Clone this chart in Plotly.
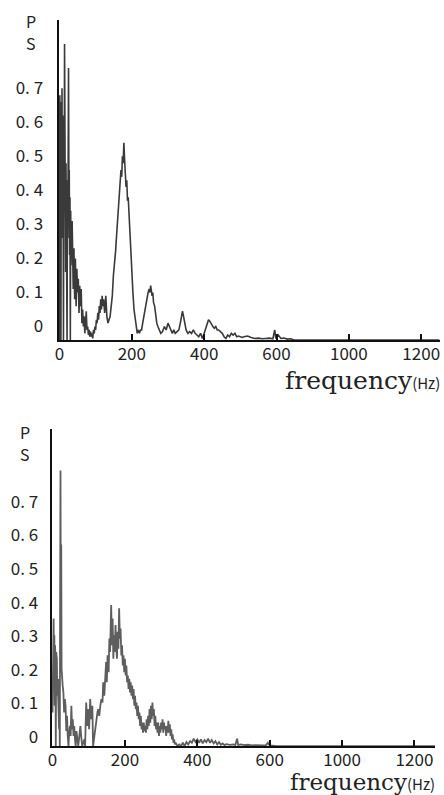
import plotly.graph_objects as go

# ---------------- data ----------------
top_freq = [0, 1, 2, 3, 4, 5, 6, 7, 8, 9, 10, 11, 12, 13, 14, 15, 16, 17, 18, 19, 20, 21, 22, 23, 24, 25,
            26, 27, 28, 29, 30, 31, 32, 33, 34, 35, 36, 37, 38, 40, 42, 44, 46, 48, 50, 52, 54, 56, 58, 60,
            62, 64, 66, 68, 70, 72, 74, 76, 78, 80, 82, 84, 86, 88, 90, 92, 94, 96, 98, 100, 102, 104, 106,
            108, 110, 112, 114, 116, 118, 120, 122, 125, 128, 131, 134, 137, 140, 143, 146, 149, 152, 155,
            158, 161, 164, 167, 170, 172, 174, 176, 178, 180, 182, 184, 186, 188, 190, 192, 194, 196, 198,
            200, 203, 206, 209, 212, 215, 218, 221, 224, 227, 230, 233, 236, 239, 242, 245, 248, 250, 252,
            254, 256, 258, 260, 263, 266, 269, 272, 276, 280, 285, 290, 295, 300, 304, 308, 312, 316, 320,
            325, 330, 334, 337, 340, 343, 346, 350, 355, 360, 365, 370, 375, 380, 385, 390, 395, 400, 404,
            408, 412, 416, 420, 424, 428, 432, 436, 440, 445, 450, 455, 460, 465, 470, 475, 480, 485, 490,
            495, 500, 505, 510, 520, 530, 540, 550, 560, 570, 580, 590, 595, 598, 605, 612, 620, 630, 640,
            650, 1050]
top_ps = [0.0, 0.72, 0.35, 0.62, 0.0, 0.70, 0.45, 0.74, 0.30, 0.66, 0.50, 0.0, 0.55, 0.40, 0.87, 0.48,
          0.60, 0.20, 0.52, 0.35, 0.50, 0.0, 0.47, 0.30, 0.52, 0.80, 0.45, 0.50, 0.25, 0.42, 0.0, 0.38,
          0.22, 0.33, 0.28, 0.35, 0.18, 0.30, 0.15, 0.27, 0.12, 0.24, 0.10, 0.21, 0.14, 0.18, 0.08, 0.16,
          0.10, 0.15, 0.05, 0.09, 0.04, 0.07, 0.02, 0.05, 0.085, 0.03, 0.04, 0.015, 0.03, 0.01, 0.025, 0.01,
          0.02, 0.005, 0.03, 0.02, 0.04, 0.03, 0.06, 0.05, 0.08, 0.06, 0.10, 0.08, 0.12, 0.09, 0.13, 0.10,
          0.12, 0.08, 0.13, 0.07, 0.05, 0.06, 0.07, 0.10, 0.13, 0.19, 0.22, 0.26, 0.31, 0.36, 0.42, 0.47,
          0.50, 0.48, 0.54, 0.52, 0.58, 0.53, 0.50, 0.45, 0.47, 0.41, 0.42, 0.37, 0.36, 0.30, 0.25, 0.20,
          0.14, 0.09, 0.06, 0.03, 0.02, 0.03, 0.02, 0.03, 0.03, 0.05, 0.07, 0.09, 0.10, 0.12, 0.14, 0.15,
          0.14, 0.16, 0.15, 0.13, 0.14, 0.11, 0.10, 0.07, 0.05, 0.04, 0.03, 0.02, 0.025, 0.04, 0.03, 0.05,
          0.04, 0.03, 0.02, 0.03, 0.02, 0.025, 0.03, 0.05, 0.07, 0.085, 0.07, 0.05, 0.03, 0.02, 0.025, 0.02,
          0.03, 0.02, 0.015, 0.01, 0.02, 0.005, 0.02, 0.035, 0.045, 0.06, 0.055, 0.045, 0.04, 0.035, 0.04,
          0.03, 0.03, 0.025, 0.02, 0.01, 0.005, 0.015, 0.01, 0.02, 0.015, 0.02, 0.01, 0.012, 0.01, 0.008,
          0.01, 0.012, 0.008, 0.005, 0.006, 0.004, 0.005, 0.006, 0.004, 0.03, 0.005, 0.015, 0.005, 0.006,
          0.003, 0.004, 0.0, 0.0]

bot_freq = [0, 2, 3, 4, 5, 6, 7, 8, 9, 10, 11, 12, 13, 14, 16, 18, 19, 20, 21, 22, 23, 24, 25, 26, 28,
            30, 32, 34, 36, 38, 40, 42, 44, 46, 48, 50, 52, 54, 56, 58, 60, 62, 64, 66, 68, 71, 74, 77, 79,
            82, 85, 88, 90, 93, 96, 99, 101, 104, 107, 110, 112, 115, 118, 121, 124, 126, 129, 132, 135,
            138, 140, 143, 145, 148, 150, 152, 155, 157, 159, 161, 162, 164, 166, 168, 170, 172, 174, 176,
            178, 180, 182, 184, 186, 188, 190, 192, 194, 196, 198, 200, 202, 204, 206, 208, 210, 212, 214,
            216, 218, 220, 222, 224, 226, 228, 230, 232, 234, 236, 238, 240, 242, 244, 246, 248, 250, 252,
            254, 256, 258, 260, 262, 264, 266, 268, 270, 272, 274, 276, 278, 280, 282, 284, 286, 288, 290,
            292, 294, 296, 298, 300, 302, 304, 306, 308, 310, 312, 314, 316, 318, 320, 322, 324, 326, 328,
            330, 332, 334, 336, 338, 340, 345, 350, 355, 360, 365, 370, 375, 380, 385, 390, 395, 400, 405,
            410, 415, 420, 425, 430, 435, 440, 445, 450, 455, 460, 465, 470, 475, 480, 490, 500, 505, 510,
            513, 520, 530, 540, 550, 560, 570, 580, 590, 595, 600, 620, 1060]
bot_ps = [0.10, 0.36, 0.38, 0.20, 0.33, 0.12, 0.30, 0.25, 0.0, 0.28, 0.22, 0.26, 0.15, 0.20, 0.13, 0.05,
          0.20, 0.0, 0.45, 0.82, 0.30, 0.60, 0.23, 0.20, 0.18, 0.16, 0.10, 0.14, 0.12, 0.045, 0.09, 0.03,
          0.0, 0.04, 0.06, 0.03, 0.12, 0.05, 0.08, 0.03, 0.06, 0.02, 0.0, 0.045, 0.02, 0.0, 0.03, 0.06,
          0.03, 0.0, 0.01, 0.02, 0.0, 0.13, 0.06, 0.11, 0.05, 0.14, 0.08, 0.12, 0.0, 0.03, 0.05, 0.08,
          0.10, 0.11, 0.09, 0.12, 0.14, 0.13, 0.19, 0.15, 0.21, 0.25, 0.19, 0.27, 0.22, 0.32, 0.28, 0.36,
          0.42, 0.30, 0.38, 0.26, 0.33, 0.28, 0.36, 0.30, 0.26, 0.34, 0.29, 0.41, 0.32, 0.35, 0.27, 0.30,
          0.24, 0.27, 0.22, 0.26, 0.21, 0.24, 0.19, 0.21, 0.17, 0.20, 0.16, 0.19, 0.15, 0.18, 0.14, 0.17,
          0.12, 0.15, 0.11, 0.13, 0.09, 0.12, 0.08, 0.10, 0.06, 0.09, 0.05, 0.07, 0.04, 0.07, 0.045, 0.06,
          0.04, 0.08, 0.05, 0.09, 0.06, 0.11, 0.07, 0.12, 0.08, 0.13, 0.09, 0.11, 0.06, 0.09, 0.05, 0.07,
          0.04, 0.07, 0.03, 0.06, 0.04, 0.07, 0.05, 0.08, 0.04, 0.07, 0.05, 0.06, 0.03, 0.06, 0.04, 0.075,
          0.04, 0.065, 0.03, 0.05, 0.02, 0.035, 0.01, 0.02, 0.005, 0.01, 0.0, 0.005, 0.0, 0.01, 0.0, 0.012,
          0.005, 0.015, 0.01, 0.022, 0.012, 0.02, 0.01, 0.02, 0.008, 0.018, 0.012, 0.022, 0.01, 0.018,
          0.008, 0.015, 0.005, 0.012, 0.004, 0.008, 0.003, 0.006, 0.004, 0.005, 0.003, 0.022, 0.003, 0.005,
          0.003, 0.004, 0.002, 0.003, 0.002, 0.002, 0.003, 0.01, 0.002, 0.0, 0.0]

y_tickvals = [0, 0.1, 0.2, 0.3, 0.4, 0.5, 0.6, 0.7]
y_ticktext = ["0", "0. 1", "0. 2", "0. 3", "0. 4", "0. 5", "0. 6", "0. 7"]
x_tickvals = [0, 200, 400, 600, 800, 1000]
x_ticktext = ["0", "200", "400", "600", "1000", "1200"]
y_label = ["P", "S"]
x_label = "frequency"
x_unit = "(Hz)"

# ---------------- figure ----------------
W, H = 444, 795
TICKFONT = dict(family="Noto Sans CJK JP, Noto Sans, sans-serif", size=17, color="#222")

fig = go.Figure()
fig.add_trace(go.Scatter(x=top_freq, y=top_ps, mode="lines",
                         line=dict(color="#3a3a3a", width=1.6), xaxis="x", yaxis="y",
                         showlegend=False, hoverinfo="skip"))
fig.add_trace(go.Scatter(x=bot_freq, y=bot_ps, mode="lines",
                         line=dict(color="#5e5e5e", width=1.8), xaxis="x2", yaxis="y2",
                         showlegend=False, hoverinfo="skip"))

def px_x(p):
    return p / W

def px_y(p):
    return 1 - p / H

common_x = dict(tickvals=x_tickvals, ticktext=x_ticktext, ticks="inside", ticklen=6,
                tickwidth=1.5, tickcolor="#111", showline=True, linecolor="#111", linewidth=2,
                showgrid=False, zeroline=False, tickfont=TICKFONT, fixedrange=True,
                ticklabelstandoff=-3)
common_y = dict(tickvals=y_tickvals, ticktext=y_ticktext, ticks="", showline=True,
                linecolor="#111", linewidth=2, showgrid=False, zeroline=False,
                tickfont=TICKFONT, fixedrange=True)

fig.update_layout(
    width=W, height=H, margin=dict(l=0, r=0, t=0, b=0),
    paper_bgcolor="white", plot_bgcolor="white",
    xaxis=dict(domain=[px_x(55), px_x(440)], range=[-2.7, 1052], anchor="y", **common_x),
    yaxis=dict(domain=[px_y(341), px_y(20)], range=[0, 0.941], anchor="x",
               ticklabelshift=-14, ticklabelstandoff=10, **common_y),
    xaxis2=dict(domain=[px_x(48), px_x(435)], range=[-2.7, 1057], anchor="y2", **common_x),
    yaxis2=dict(domain=[px_y(748), px_y(430)], range=[0, 0.944], anchor="x2",
                ticklabelshift=-9, ticklabelstandoff=8, **common_y),
)

label_font = dict(family="Noto Sans CJK JP, Noto Sans, sans-serif", size=16, color="#222")
unit_span = '<span style="font-family:Noto Sans CJK JP; font-size:15px">' + x_unit + '</span>'
for (px, py_p, py_s) in [(27, 21, 43), (21, 433, 455)]:
    fig.add_annotation(text=y_label[0], x=px_x(px), y=px_y(py_p), xref="paper", yref="paper",
                       showarrow=False, font=label_font, xanchor="center", yanchor="middle",
                       height=16, borderpad=0)
    fig.add_annotation(text=y_label[1], x=px_x(px), y=px_y(py_s), xref="paper", yref="paper",
                       showarrow=False, font=label_font, xanchor="center", yanchor="middle",
                       height=16, borderpad=0)
fig.add_annotation(text=x_label + unit_span, x=px_x(442), y=px_y(381), xref="paper", yref="paper",
                   showarrow=False, xanchor="right", yanchor="middle",
                   font=dict(family="DejaVu Serif, serif", size=25, color="#222"))
fig.add_annotation(text=x_label + unit_span, x=px_x(437), y=px_y(784), xref="paper", yref="paper",
                   showarrow=False, xanchor="right", yanchor="middle",
                   font=dict(family="DejaVu Serif, serif", size=23, color="#222"))

fig.write_html("out.html")
